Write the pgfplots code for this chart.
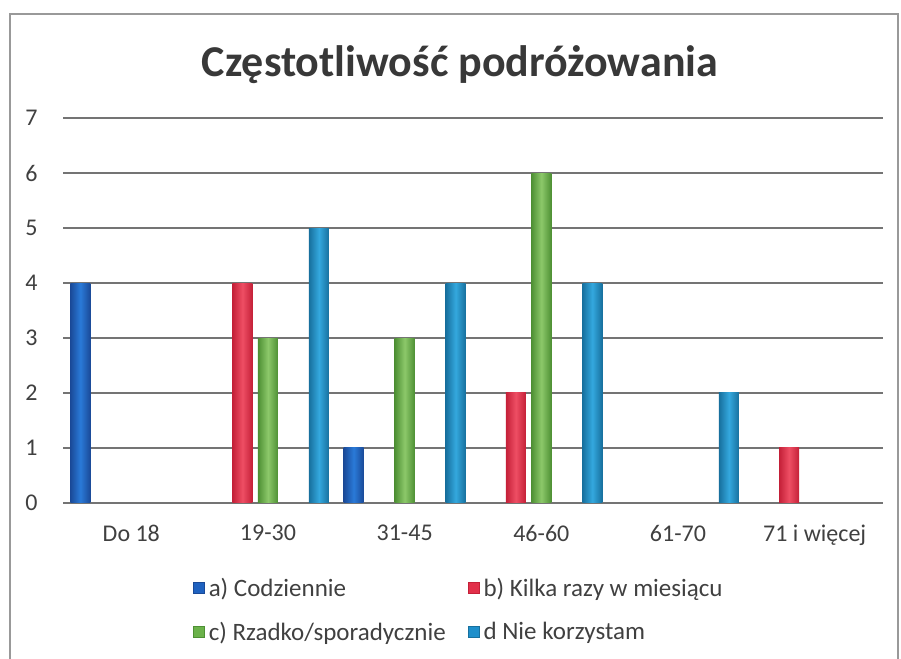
\documentclass[border=0pt]{standalone}
\usepackage{fontspec}
\setmainfont{Carlito}
\usepackage{pgfplots}
\pgfplotsset{compat=1.18}
\definecolor{ca}{HTML}{1F62C0}
\definecolor{caE}{HTML}{1A4A98}
\definecolor{caM}{HTML}{2A7AD8}
\definecolor{cb}{HTML}{E2304A}
\definecolor{cbE}{HTML}{C42038}
\definecolor{cbM}{HTML}{EE4E64}
\definecolor{cc}{HTML}{6BB24A}
\definecolor{ccE}{HTML}{4E9034}
\definecolor{ccM}{HTML}{8CC86A}
\definecolor{cd}{HTML}{1E8FCB}
\definecolor{cdE}{HTML}{17709E}
\definecolor{cdM}{HTML}{34A8DE}
\definecolor{gridc}{HTML}{747474}
\definecolor{labc}{HTML}{404040}
\definecolor{titlec}{HTML}{383838}
\pgfplotsset{
  sa/.style={draw=none, forget plot, bar shift=-25.5pt, left color=caE, right color=caE, middle color=caM},
  sb/.style={draw=none, forget plot, bar shift=-12.75pt, left color=cbE, right color=cbE, middle color=cbM},
  sc/.style={draw=none, forget plot, bar shift=0pt, left color=ccE, right color=ccE, middle color=ccM},
  sd/.style={draw=none, forget plot, bar shift=25.5pt, left color=cdE, right color=cdE, middle color=cdM},
}
\begin{document}
\begin{tikzpicture}
\useasboundingbox (0,0) rectangle (450.5pt,329.5pt);
\draw[color=gray!80, line width=0.8pt] (5pt,-2pt) -- (5pt,322.5pt) -- (449pt,322.5pt) -- (449pt,-2pt);
\node[anchor=base, font=\fontsize{22}{26}\selectfont\bfseries, text=titlec] at (230pt,291pt) {Częstotliwość podróżowania};
\begin{axis}[
  at={(31.5pt,78pt)}, anchor=south west,
  scale only axis, width=410pt, height=192.5pt,
  xmin=-0.5, xmax=5.5, ymin=0, ymax=7,
  xtick={0,...,5},
  xticklabels={Do 18,19-30,31-45,46-60,61-70,71 i więcej},
  ytick={0,...,7},
  axis line style={draw=none},
  major tick length=0pt,
  ymajorgrids,
  grid style={gridc, line width=0.75pt},
  ybar, bar width=10pt,
  tick label style={font=\fontsize{12}{14}\selectfont, text=labc},
  /pgf/number format/assume math mode=true,
  yticklabel style={inner sep=0pt, anchor=east, xshift=-12.5pt},
  xticklabel style={inner sep=0pt, anchor=north, yshift=-11pt},
  legend columns=2,
  legend cell align=left,
  legend style={draw=none, fill=none, at={(0.158,-0.183)}, anchor=north west,
    inner sep=0pt, font=\fontsize{12.5}{14}\selectfont, text=labc,
    /tikz/every even column/.append style={column sep=9pt}, row sep=7.5pt},
  legend image code/.code={\draw[#1, line width=0.4pt] (0pt,-2.5pt) rectangle (5.5pt,3pt);},
]
% a) Codziennie: 4,0,1,0,0,0
\addplot[sa] coordinates {(0,4)};
\addplot[sa] coordinates {(2,1)};
% b) Kilka razy w miesiacu: 0,4,0,2,0,1
\addplot[sb] coordinates {(1,4)};
\addplot[sb] coordinates {(3,2)};
\addplot[sb] coordinates {(5,1)};
% c) Rzadko/sporadycznie: 0,3,3,6,0,0
\addplot[sc] coordinates {(1,3)};
\addplot[sc] coordinates {(2,3)};
\addplot[sc] coordinates {(3,6)};
% d Nie korzystam: 0,5,4,4,2,0
\addplot[sd] coordinates {(1,5)};
\addplot[sd] coordinates {(2,4)};
\addplot[sd] coordinates {(3,4)};
\addplot[sd] coordinates {(4,2)};
\addlegendimage{fill=ca, draw=caE}
\addlegendentry{a) Codziennie}
\addlegendimage{fill=cb, draw=cbE}
\addlegendentry{b) Kilka razy w miesiącu}
\addlegendimage{fill=cc, draw=ccE}
\addlegendentry{c) Rzadko/sporadycznie}
\addlegendimage{fill=cd, draw=cdE}
\addlegendentry{d Nie korzystam}
\end{axis}
\end{tikzpicture}
\end{document}
